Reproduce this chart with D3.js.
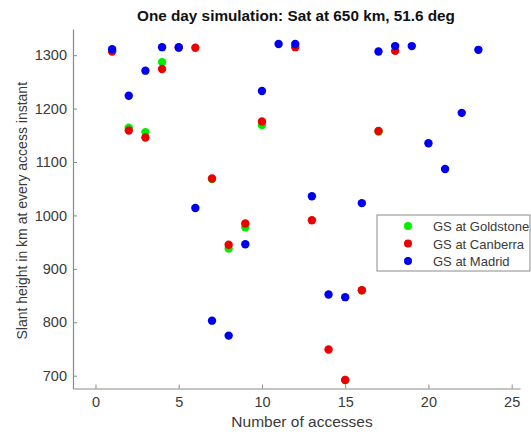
<!DOCTYPE html>
<html>
<head>
<meta charset="utf-8">
<script src="https://cdn.jsdelivr.net/npm/d3@7"></script>
<style>
  body { margin: 0; background: #fff; }
  svg { font-family: "Liberation Sans", Arial, sans-serif; }
</style>
</head>
<body>
<div id="chart"></div>
<script>
// access index for each ground station, slant height in km
var gold_x = [1, 2, 3, 4, 7, 8, 9, 10, 15, 16, 17];
var gold_y = [1308, 1164, 1156, 1287, 1068, 938, 978, 1169, 692, 860, 1157];

var canb_x = [1, 2, 3, 4, 5, 6, 7, 8, 9, 10, 12, 13, 14, 15, 16, 17, 18];
var canb_y = [1307, 1159, 1146, 1274, 1314, 1314, 1069, 945, 985, 1176, 1315, 991, 749, 692, 860, 1158, 1308];

var madr_x = [1, 2, 3, 4, 5, 6, 7, 8, 9, 10, 11, 12, 13, 14, 15, 16, 17, 18, 19, 20, 21, 22, 23];
var madr_y = [1311, 1224, 1271, 1315, 1315, 1014, 803, 775, 946, 1233, 1321, 1321, 1036, 852, 847, 1023, 1307, 1317, 1317, 1135, 1087, 1192, 1310];

var x_ticks = [0, 5, 10, 15, 20, 25];
var y_ticks = [700, 800, 900, 1000, 1100, 1200, 1300];

var series_names = ['GS at Goldstone', 'GS at Canberra', 'GS at Madrid'];
var series_cols = ['#00ee00', '#ee0000', '#0000ee'];

var width = 531, height = 432;
var plot_l = 73, plot_r = 520, plot_t = 29, plot_b = 388.5;
var axis_col = '#8a8a8a';
var text_col = '#3a3a3a';

var svg = d3.select('#chart').append('svg:svg')
  .attr('width', width)
  .attr('height', height);

var x = d3.scaleLinear().domain([-1.35, 25.5]).range([plot_l, plot_r]);
var y = d3.scaleLinear().domain([676, 1349]).range([plot_b, plot_t]);

var xAxis = svg.append('svg:g')
  .attr('transform', 'translate(0,' + plot_b + ')')
  .call(d3.axisBottom(x).tickValues(x_ticks).tickFormat(d3.format('d'))
    .tickSizeInner(-4).tickSizeOuter(0).tickPadding(8));
var yAxis = svg.append('svg:g')
  .attr('transform', 'translate(' + plot_l + ',0)')
  .call(d3.axisLeft(y).tickValues(y_ticks).tickFormat(d3.format('d'))
    .tickSizeInner(-4).tickSizeOuter(0).tickPadding(6));

for (let ax of [xAxis, yAxis]) {
  ax.select('.domain').attr('stroke', axis_col).attr('stroke-width', 1.2);
  ax.selectAll('.tick line').attr('stroke', axis_col);
  ax.selectAll('.tick text').attr('fill', text_col).attr('font-size', '14.5px');
}

// title and axis labels
svg.append('svg:text')
  .attr('x', 296).attr('y', 21)
  .attr('text-anchor', 'middle')
  .attr('font-size', '15.3px')
  .attr('font-weight', 'bold')
  .attr('fill', '#111')
  .text('One day simulation: Sat at 650 km, 51.6 deg');

svg.append('svg:text')
  .attr('x', 302).attr('y', 427)
  .attr('text-anchor', 'middle')
  .attr('font-size', '15.5px')
  .attr('fill', text_col)
  .text('Number of accesses');

svg.append('svg:text')
  .attr('transform', 'translate(27,' + ((plot_t + plot_b) / 2 + 2) + ') rotate(-90)')
  .attr('text-anchor', 'middle')
  .attr('font-size', '14px')
  .attr('fill', text_col)
  .text('Slant height in km at every access instant');

// dots: Goldstone first, Madrid drawn on top
var all_x = [gold_x, canb_x, madr_x];
var all_y = [gold_y, canb_y, madr_y];
for (let s = 0; s < 3; s++) {
  let pts = all_x[s].map(function(d, i) { return {x: d, y: all_y[s][i]}; });
  svg.append('svg:g')
    .selectAll('circle')
    .data(pts)
    .join('svg:circle')
    .attr('cx', function(d) { return x(d.x); })
    .attr('cy', function(d) { return y(d.y); })
    .attr('r', 4.2)
    .attr('fill', series_cols[s]);
}

// legend
var leg = svg.append('svg:g').attr('transform', 'translate(377,215)');
leg.append('svg:rect')
  .attr('width', 153).attr('height', 56)
  .attr('fill', '#fff')
  .attr('stroke', axis_col);
leg.selectAll('g.item')
  .data(series_names)
  .join('svg:g')
  .attr('class', 'item')
  .attr('transform', function(d, i) { return 'translate(0,' + (11 + i * 17.5) + ')'; })
  .each(function(d, i) {
    let g = d3.select(this);
    g.append('svg:circle').attr('cx', 31).attr('cy', 0).attr('r', 4).attr('fill', series_cols[i]);
    g.append('svg:text').attr('x', 56).attr('y', 5)
      .attr('font-size', '13px').attr('fill', text_col).text(d);
  });
</script>
</body>
</html>
